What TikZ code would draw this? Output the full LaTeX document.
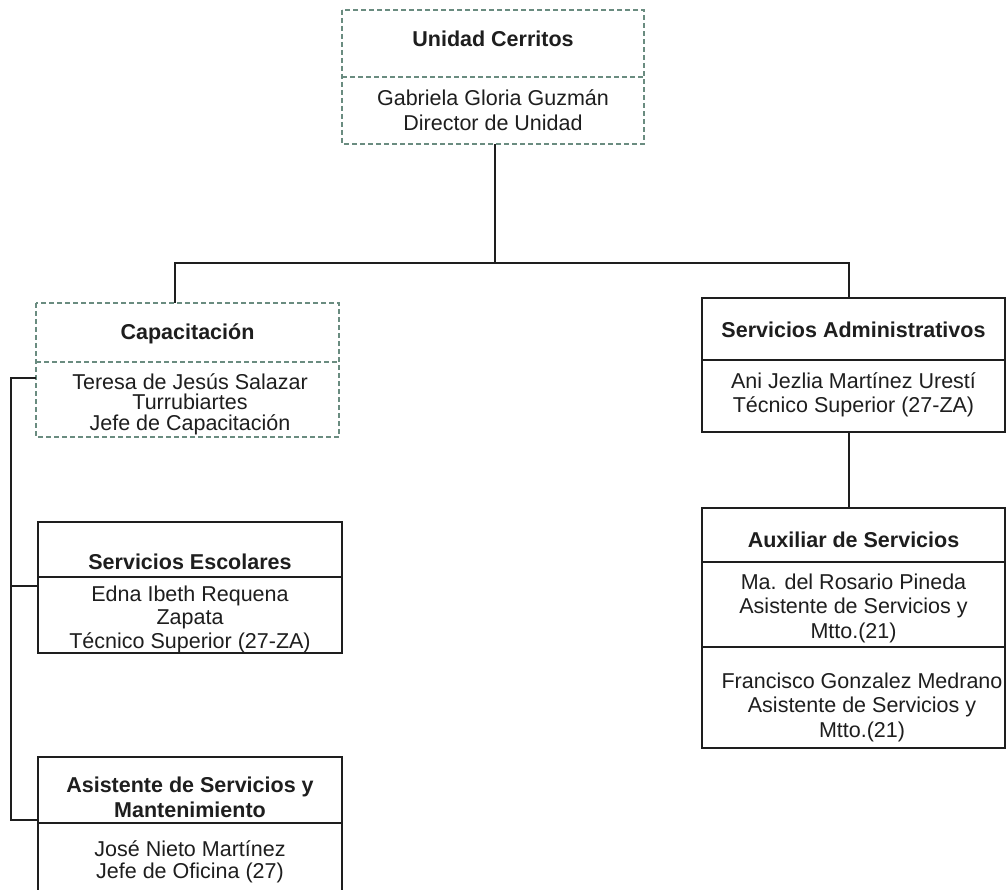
\documentclass[tikz,border=0pt]{standalone}
\usepackage{fontspec}
\setmainfont{Liberation Sans}
\usetikzlibrary{calc}
\definecolor{dashc}{HTML}{6A8C80}
\definecolor{linec}{HTML}{1E1E1E}
\begin{document}
\begin{tikzpicture}[x=1pt,y=-1pt,
  solidpart/.style={draw=linec,line width=1.5pt,inner sep=0pt,outer sep=0pt},
  hidpart/.style={inner sep=0pt,outer sep=0pt},
  dashline/.style={draw=dashc,line width=1.2pt,dash pattern=on 5pt off 3pt},
  ttl/.style={font=\fontsize{21.5}{25}\selectfont\bfseries,text=linec,align=center,inner sep=0pt},
  txt/.style={font=\fontsize{21.5}{24.5}\selectfont,text=linec,align=center,inner sep=0pt},
  conn/.style={draw=linec,line width=1.5pt}]
\useasboundingbox (0,0) rectangle (1006,890);
\fill[white] (0,0) rectangle (1006,890);

% Unidad Cerritos
\node[hidpart,minimum width=302pt,minimum height=67pt] (uc1) at (493,43.5) {};
\node[hidpart,minimum width=302pt,minimum height=67pt] (uc2) at (493,110.5) {};
\draw[dashline] (uc1.north west) rectangle (uc2.south east);
\draw[dashline] (uc1.south west) -- (uc1.south east);
\node[ttl] (uct) at (493,39) {Unidad Cerritos};
\node[txt] (ucb) at (493,110) {Gabriela Gloria Guzmán\\Director de Unidad};

% Capacitacion
\node[hidpart,minimum width=303pt,minimum height=59pt] (cap1) at (187.5,332.5) {};
\node[hidpart,minimum width=303pt,minimum height=75pt] (cap2) at (187.5,399.5) {};
\draw[dashline] (cap1.north west) rectangle (cap2.south east);
\draw[dashline] (cap1.south west) -- (cap1.south east);
\node[ttl] (capt) at (187.5,334) {Capacitación};
\node[txt,font=\fontsize{21.5}{20.5}\selectfont] (capb) at (190,404) {Teresa de Jesús Salazar\\Turrubiartes\\Jefe de Capacitación};

% Servicios Escolares
\node[solidpart,minimum width=304pt,minimum height=55pt] (se1) at (190,549.5) {};
\node[solidpart,minimum width=304pt,minimum height=76pt] (se2) at (190,615) {};
\node[ttl] (set) at (190,562) {Servicios Escolares};
\node[txt,font=\fontsize{21.5}{23.5}\selectfont] (seb) at (190,619) {Edna Ibeth Requena\\Zapata\\Técnico Superior (27-ZA)};

% Asistente de Servicios y Mantenimiento
\node[solidpart,minimum width=304pt,minimum height=66pt] (as1) at (190,790) {};
\node[solidpart,minimum width=304pt,minimum height=80pt] (as2) at (190,863) {};
\node[ttl] (ast) at (190,797.5) {Asistente de Servicios y\\Mantenimiento};
\node[txt,font=\fontsize{21.5}{22}\selectfont] (asb) at (190,862) {José Nieto Martínez\\Jefe de Oficina (27)};

% Servicios Administrativos
\node[solidpart,minimum width=303pt,minimum height=62pt] (sa1) at (853.5,329) {};
\node[solidpart,minimum width=303pt,minimum height=72pt] (sa2) at (853.5,396) {};
\node[ttl] (sat) at (853.5,330) {Servicios Administrativos};
\node[txt] (sab) at (853.5,395) {Ani Jezlia Martínez Urestí\\Técnico Superior (27-ZA)};

% Auxiliar de Servicios
\node[solidpart,minimum width=303pt,minimum height=54pt] (ax1) at (853.5,535) {};
\node[solidpart,minimum width=303pt,minimum height=85pt] (ax2) at (853.5,604.5) {};
\node[solidpart,minimum width=303pt,minimum height=101pt] (ax3) at (853.5,697.5) {};
\node[ttl] (axt) at (853.5,540) {Auxiliar de Servicios};
\node[txt] (axb) at (853.5,608) {Ma. del Rosario Pineda\\Asistente de Servicios y\\Mtto.(21)};
\node[txt] (axc) at (862,707) {Francisco Gonzalez Medrano\\Asistente de Servicios y\\Mtto.(21)};

% connectors
\coordinate (busL) at (175,263);
\coordinate (busR) at (849,263);
\coordinate (busC) at (495,263);
\coordinate (lbus) at (11,378);
\draw[conn] (uc2.south -| busC) -- (busC);
\draw[conn] (cap1.north -| busL) -- (busL) -- (busR) -- (busR |- sa1.north);
\draw[conn] (sa2.south -| busR) -- (busR |- ax1.north);
\draw[conn] (cap2.west |- lbus) -- (lbus) -- ($(lbus |- as1.south)+(0,-3)$) -- ($(as1.south west)+(0,-3)$);
\draw[conn] ($(lbus |- se2.west)+(0,-29)$) -- ($(se2.west)+(0,-29)$);
\end{tikzpicture}
\end{document}
